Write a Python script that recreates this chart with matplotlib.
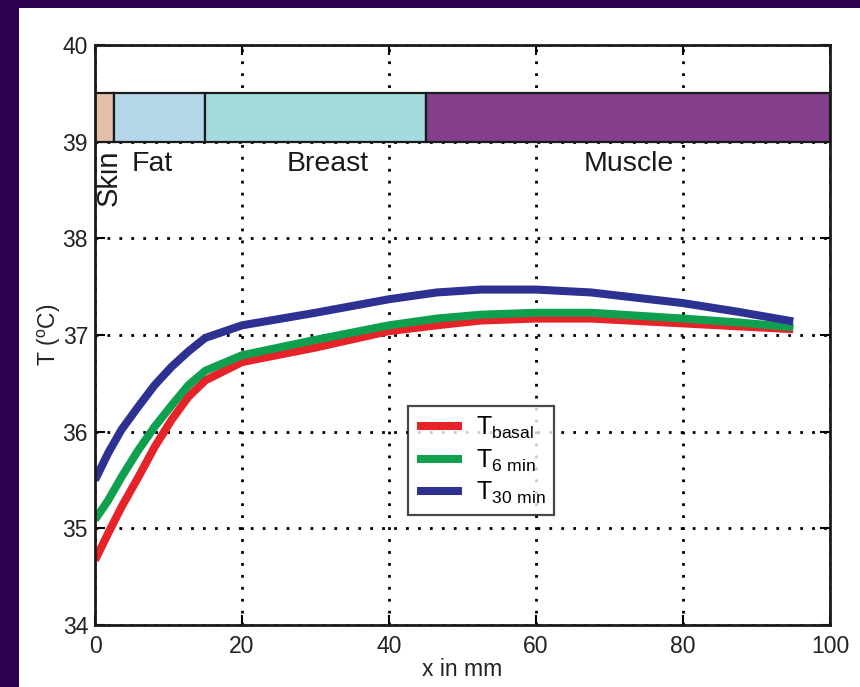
import matplotlib
matplotlib.use("Agg")
import matplotlib.pyplot as plt
from matplotlib.patches import Rectangle

# temperature profiles
x_mm = [0, 1.8, 3.6, 5.9, 8.1, 10.4, 12.7, 15, 20, 30, 40, 46.5, 52.5, 60, 67.5, 80, 87.5, 95]
t_basal = [34.67, 34.95, 35.22, 35.53, 35.84, 36.12, 36.36, 36.53, 36.72, 36.87, 37.04, 37.10,
           37.15, 37.17, 37.17, 37.12, 37.09, 37.06]
t_6min = [35.09, 35.29, 35.53, 35.81, 36.05, 36.27, 36.48, 36.63, 36.79, 36.95, 37.10, 37.17,
          37.21, 37.23, 37.23, 37.17, 37.13, 37.08]
t_30min = [35.50, 35.78, 36.02, 36.26, 36.48, 36.67, 36.83, 36.97, 37.10, 37.23, 37.37, 37.44,
           37.47, 37.47, 37.44, 37.33, 37.24, 37.14]

# tissue layers (start, end in mm)
tissues = ["Skin", "Fat", "Breast", "Muscle"]
tissue_start = [0, 2.6, 15, 45]
tissue_end = [2.6, 15, 45, 100]
tissue_colors = ["#e6bfaa", "#b6d7ea", "#a3dcdc", "#833e8c"]
# where the names go
label_x = [1.8, 7.8, 31.6, 72.6]
label_y = [38.92, 38.77, 38.77, 38.77]

plt.rcParams["font.family"] = ["Liberation Sans", "DejaVu Sans"]
plt.rcParams["mathtext.fontset"] = "custom"
plt.rcParams["mathtext.rm"] = "Liberation Sans"

fig = plt.figure(figsize=(8.6, 6.87), dpi=100)
fig.patch.set_facecolor("#2e0050")
# white panel inside the purple border
fig.patches.append(Rectangle((19 / 860, 0), 1, 1 - 8 / 687, transform=fig.transFigure,
                             facecolor="white", edgecolor="none", zorder=-1))

ax = fig.add_axes([95 / 860, 62 / 687, 735 / 860, 580 / 687])
ax.set_xlim(0, 100)
ax.set_ylim(34, 40)

# dotted grid like matlab
ax.set_axisbelow(True)
ax.grid(True, color="black", linestyle=(0, (1, 3.3)), linewidth=2)

# tissue bar between 39 and 39.5
for start, end, col in zip(tissue_start, tissue_end, tissue_colors):
    ax.add_patch(Rectangle((start, 39), end - start, 0.5, facecolor=col,
                           edgecolor="#1a1a1a", linewidth=1.6, zorder=3))

# tissue names
for name, lx, ly in zip(tissues, label_x, label_y):
    if name == "Skin":
        ax.text(lx, ly, name, rotation=90, ha="center", va="top", fontsize=21, color="#1a1a1a")
    else:
        ax.text(lx, ly, name, ha="center", va="center", fontsize=20.5, color="#1a1a1a")

# the three curves
ax.plot(x_mm, t_basal, color="#e62328", linewidth=5.8, solid_capstyle="butt", zorder=4,
        label=r"T$_{\mathrm{basal}}$")
ax.plot(x_mm, t_6min, color="#0ea04e", linewidth=5.8, solid_capstyle="butt", zorder=5,
        label=r"T$_{\mathrm{6\ min}}$")
ax.plot(x_mm, t_30min, color="#2d3192", linewidth=5.8, solid_capstyle="butt", zorder=6,
        label=r"T$_{\mathrm{30\ min}}$")

leg = ax.legend(loc="lower left", bbox_to_anchor=(0.426, 0.19), fontsize=18,
                frameon=True, fancybox=False, handlelength=1.8, handletextpad=0.55,
                labelspacing=0.25, borderpad=0.35, borderaxespad=0)
leg.get_frame().set_edgecolor("#1a1a1a")
leg.get_frame().set_linewidth(1.6)
leg.set_zorder(10)

# ticks and box
ax.set_xticks([0, 20, 40, 60, 80, 100])
ax.set_yticks([34, 35, 36, 37, 38, 39, 40])
ax.tick_params(direction="in", length=7, width=1.5, top=True, right=True,
               labelsize=16.5, labelcolor="#222222")
ax.tick_params(axis="x", pad=7)
ax.tick_params(axis="y", pad=5)
for sp in ax.spines.values():
    sp.set_linewidth(2)
    sp.set_color("#1a1a1a")
    sp.set_zorder(8)

ax.set_xlabel("x in mm", fontsize=16.5, color="#222222", labelpad=0)
ax.set_ylabel(r"T ($^{\mathrm{o}}$C)", fontsize=16.5, color="#222222", labelpad=0)

fig.savefig("out.png", dpi=100, facecolor=fig.get_facecolor())
